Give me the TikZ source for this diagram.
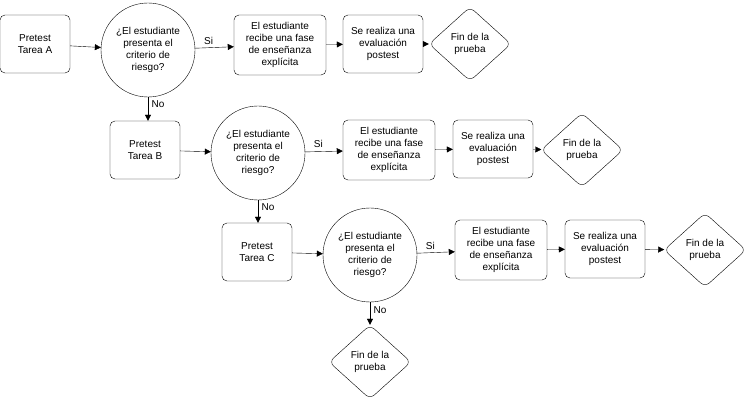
\documentclass[tikz,border=0pt]{standalone}
\usepackage{fontspec}
\setmainfont{Liberation Sans}
\usetikzlibrary{shapes.geometric,arrows.meta}

\tikzset{
  box/.style={draw, rounded corners=5pt, minimum width=70pt, minimum height=58pt, inner sep=1pt, align=center, font=\fontsize{10}{12}\selectfont},
  wide/.style={box, minimum width=92pt, minimum height=60pt},
  eval/.style={box, minimum width=80pt},
  ask/.style={draw, circle, minimum size=94pt, inner sep=0pt, align=center, font=\fontsize{10}{12}\selectfont},
  fin/.style={draw, diamond, rounded corners=6pt, minimum width=82pt, minimum height=74pt, inner sep=0pt, align=center, font=\fontsize{10}{12}\selectfont},
  link/.style={-{Triangle[length=6pt,width=6pt]}},
  lab/.style={font=\fontsize{10}{12}\selectfont}
}

\begin{document}
\begin{tikzpicture}[x=1pt, y=-1pt]
    \useasboundingbox (0,0) rectangle (747,406);

    % Row A
    \node[box] (preA) at (35,44) {Pretest\\Tarea A};
    \node[ask] (askA) at (148,50) {¿El estudiante\\presenta el\\criterio de\\riesgo?};
    \node[wide] (ensA) at (280,45) {El estudiante\\recibe una fase\\de enseñanza\\explícita};
    \node[eval] (evA) at (383,44) {Se realiza una\\evaluación\\postest};
    \node[fin] (finA) at (470,44) {Fin de la\\prueba};

    % Row B
    \node[box] (preB) at (145,150) {Pretest\\Tarea B};
    \node[ask] (askB) at (258,153) {¿El estudiante\\presenta el\\criterio de\\riesgo?};
    \node[wide] (ensB) at (389,150) {El estudiante\\recibe una fase\\de enseñanza\\explícita};
    \node[eval] (evB) at (493,149) {Se realiza una\\evaluación\\postest};
    \node[fin] (finB) at (582,150) {Fin de la\\prueba};

    % Row C
    \node[box] (preC) at (257,252) {Pretest\\Tarea C};
    \node[ask] (askC) at (370,255) {¿El estudiante\\presenta el\\criterio de\\riesgo?};
    \node[wide] (ensC) at (501,250) {El estudiante\\recibe una fase\\de enseñanza\\explícita};
    \node[eval] (evC) at (605,249) {Se realiza una\\evaluación\\postest};
    \node[fin] (finC) at (705,250) {Fin de la\\prueba};
    \node[fin] (finD) at (370,362) {Fin de la\\prueba};

    % Connectors
    \draw[link] (preA) -- (askA);
    \draw[link] (askA) -- node[lab, above, pos=0.35] {Si} (ensA);
    \draw[link] (ensA) -- (evA);
    \draw[link] (evA) -- (finA);
    \draw[link] (askA) -- node[lab, right, pos=0.3] {No} (askA|-preB.north);

    \draw[link] (preB) -- (askB);
    \draw[link] (askB) -- node[lab, above, pos=0.35] {Si} (ensB);
    \draw[link] (ensB) -- (evB);
    \draw[link] (evB) -- (finB);
    \draw[link] (askB) -- node[lab, right, pos=0.3] {No} (askB|-preC.north);

    \draw[link] (preC) -- (askC);
    \draw[link] (askC) -- node[lab, above, pos=0.35] {Si} (ensC);
    \draw[link] (ensC) -- (evC);
    \draw[link] (evC) -- (finC);
    \draw[link] (askC) -- node[lab, right, pos=0.35] {No} (finD);
\end{tikzpicture}
\end{document}
